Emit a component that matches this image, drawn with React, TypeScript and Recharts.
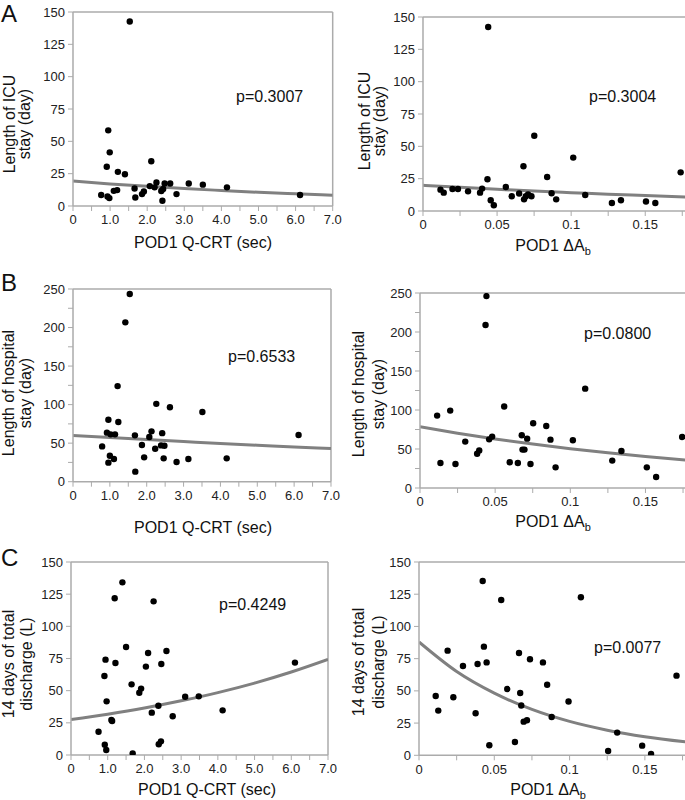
import React from "react";
import { ComposedChart, Line, ReferenceLine, Scatter, XAxis, YAxis } from "recharts";

const FONT = "'Liberation Sans', Arial, Helvetica, sans-serif";
const AXIS = "#ababab";

// x values: POD1 Q-CRT (sec) / POD1 ΔAb ; y values per outcome
const icuVsQcrt: [number, number][] = [
  [1.53, 142.6], [0.95, 58.5], [0.99, 41.5], [0.91, 30.3], [1.21, 26.4], [1.4, 24.6], [2.11, 34.6],
  [0.76, 8.5], [0.93, 7.3], [0.98, 6.1], [1.1, 11.7], [1.19, 12.3], [1.66, 13.5], [1.68, 6.6],
  [1.86, 9.2], [1.91, 11.2], [2.07, 15.4], [2.2, 14.4], [2.25, 18.2], [2.38, 11.6], [2.43, 13.2],
  [2.47, 17.4], [2.41, 4.1], [2.62, 17.4], [2.79, 9.2], [3.12, 17.4], [3.5, 16.5], [4.15, 14.4],
  [6.12, 8.5],
];
const icuVsDab: [number, number][] = [
  [0.044, 142.3], [0.0751, 58.2], [0.1014, 41.3], [0.0678, 34.6], [0.1739, 29.9], [0.0838, 26.3],
  [0.0435, 24.5], [0.0118, 16.5], [0.014, 14.2], [0.0199, 17], [0.0236, 17], [0.0304, 15.2],
  [0.0385, 14.2], [0.0399, 17.3], [0.0457, 8.3], [0.0478, 4.4], [0.0559, 18.6], [0.0599, 11.4],
  [0.0649, 13.5], [0.0682, 9], [0.0694, 11.4], [0.0709, 12.7], [0.0732, 11.4], [0.0868, 13.7],
  [0.0899, 9], [0.1095, 12.4], [0.1275, 6.2], [0.1336, 8.3], [0.1505, 7.3], [0.1568, 6.2],
];
const hospVsQcrt: [number, number][] = [
  [1.54, 243.5], [1.42, 206.7], [1.21, 124], [2.26, 101], [2.63, 96.5], [3.51, 90.4], [0.96, 80.4],
  [1.23, 77.4], [0.92, 63.6], [1.02, 61.4], [1.14, 61.4], [1.68, 60.1], [2.13, 65.3], [2.07, 58],
  [2.42, 63], [6.12, 60.6], [0.79, 45.8], [1.87, 47.6], [2.39, 47.1], [2.48, 46.7], [2.23, 42.8],
  [1.0, 33.7], [1.11, 29.4], [0.96, 24.7], [1.93, 31.6], [2.46, 30.3], [2.81, 25.5], [3.13, 29.4],
  [4.17, 30.3], [1.69, 13],
];
const hospVsDab: [number, number][] = [
  [0.0442, 246], [0.0436, 209], [0.1099, 127.4], [0.056, 104.4], [0.0201, 99.2], [0.0114, 92.8],
  [0.0753, 83], [0.084, 79.5], [0.0677, 67.6], [0.048, 65.9], [0.046, 62.4], [0.0713, 63.3],
  [0.0868, 62], [0.1017, 61.2], [0.1744, 65.4], [0.0301, 59.5], [0.038, 44], [0.0394, 48],
  [0.0682, 49.2], [0.0695, 49.2], [0.0136, 32], [0.0236, 30.8], [0.0597, 33], [0.0651, 32],
  [0.0735, 30.8], [0.0902, 26.5], [0.1279, 35.1], [0.134, 47.4], [0.1509, 26.5], [0.1571, 14.1],
];
const dischargeVsQcrt: [number, number][] = [
  [1.4, 134.2], [1.19, 121.8], [2.25, 119.4], [1.5, 83.9], [2.1, 79.3], [2.6, 80.8], [0.94, 74.1],
  [1.21, 71.5], [2.46, 70.7], [6.1, 71.8], [2.04, 68.7], [0.91, 61.4], [1.65, 54.9], [1.91, 51.6],
  [1.86, 48.4], [0.97, 41.7], [3.11, 45.3], [3.48, 45.6], [2.38, 38.3], [4.13, 34.7], [1.1, 27.2],
  [1.12, 26.4], [2.2, 32.9], [2.77, 30.1], [0.75, 18.1], [0.92, 8], [0.96, 3.9], [2.39, 8.3],
  [2.45, 10.6], [1.68, 1.3],
];
const dischargeVsDab: [number, number][] = [
  [0.0423, 135.2], [0.0546, 120.5], [0.1075, 122.6], [0.019, 81.2], [0.0431, 84.3], [0.0664, 79.4],
  [0.0737, 74.5], [0.0292, 69.3], [0.0389, 70.8], [0.0449, 72.1], [0.0823, 72.1], [0.0586, 51.4],
  [0.0672, 48.3], [0.0851, 54.8], [0.0111, 46], [0.0228, 45], [0.0993, 41.7], [0.0128, 34.7],
  [0.0376, 32.6], [0.0679, 38.6], [0.0695, 26.1], [0.0717, 27.2], [0.0881, 29.7], [0.1316, 17.6],
  [0.0467, 7.8], [0.0637, 10.3], [0.1256, 3.3], [0.1482, 7.5], [0.1541, 1], [0.171, 61.8],
];

// fitted curves, read at fixed x positions
const trendQcrtX = [0, 1, 2, 3, 4, 5, 6, 7];
const trendDabX = [0, 0.025, 0.05, 0.075, 0.1, 0.125, 0.15, 0.177];
const icuTrendQcrt = [19.3, 17.1, 15.2, 13.5, 12.0, 10.6, 9.4, 8.3];
const icuTrendDab = [19.9, 18.3, 16.8, 15.4, 14.2, 13.0, 12.0, 10.9];
const hospTrendQcrt = [60, 57.2, 54.6, 52.1, 49.6, 47.3, 45.1, 43];
const hospTrendDab = [78.5, 70.3, 62.9, 56.3, 50.4, 45.1, 40.4, 35.8];
const dischargeTrendQcrt = [27.5, 31.7, 36.5, 42.1, 48.5, 55.9, 64.5, 74.3];
const dischargeTrendDab = [87.9, 65, 48.2, 35.6, 26.3, 19.5, 14.4, 10.4];

const qcrtTicks = [0, 0.5, 1, 1.5, 2, 2.5, 3, 3.5, 4, 4.5, 5, 5.5, 6, 6.5, 7];
const dabTicks = [0, 0.025, 0.05, 0.075, 0.1, 0.125, 0.15, 0.175];
const ticks150 = [0, 25, 50, 75, 100, 125, 150];
const ticks250 = [0, 25, 50, 75, 100, 125, 150, 175, 200, 225, 250];

const fmtQcrt = (v: number) => (v === 0 ? "0" : Number.isInteger(v) ? v.toFixed(1) : "");
const fmtDab = (v: number) => {
  const r = Math.round(v * 1000);
  return r % 50 === 0 ? String(Math.round(v * 100) / 100) : "";
};
const fmt150 = (v: number) => String(v);
const fmt250 = (v: number) => (v % 50 === 0 ? String(v) : "");

type PanelProps = {
  box: [number, number, number, number]; // plot left, top, right, bottom
  points: [number, number][];
  trendX: number[];
  trendY: number[];
  xMax: number;
  xTicks: number[];
  xFmt: (v: number) => string;
  yMax: number;
  yTicks: number[];
  yFmt: (v: number) => string;
  frameRight: boolean;
};

function Dot(props: any) {
  return <circle cx={props.cx} cy={props.cy} r={3.2} fill="#000" />;
}

function Panel(p: PanelProps) {
  const [l, t, r, b] = p.box;
  const ml = 40;
  const mt = 10;
  const mr = 16;
  const w = r - l + ml + mr;
  const h = b - t + mt + 30;
  const pts = p.points.map(([x, y]) => ({ x, y }));
  const line = p.trendX.map((x, i) => ({ x, y: p.trendY[i] }));
  return (
    <div style={{ position: "absolute", left: l - ml, top: t - mt }}>
      <ComposedChart width={w} height={h} margin={{ top: mt, right: mr, left: 0, bottom: 0 }}>
        <XAxis
          type="number"
          dataKey="x"
          domain={[0, p.xMax]}
          ticks={p.xTicks}
          tickFormatter={p.xFmt}
          interval={0}
          allowDataOverflow
          height={30}
          tickSize={5}
          tickMargin={4}
          axisLine={{ stroke: AXIS, strokeWidth: 1.5 }}
          tickLine={{ stroke: AXIS }}
          tick={{ fontSize: 13, fill: "#222", fontFamily: FONT }}
        />
        <YAxis
          type="number"
          dataKey="y"
          domain={[0, p.yMax]}
          ticks={p.yTicks}
          tickFormatter={p.yFmt}
          interval={0}
          allowDataOverflow
          width={ml}
          tickSize={5}
          tickMargin={3}
          axisLine={{ stroke: AXIS, strokeWidth: 1.5 }}
          tickLine={{ stroke: AXIS }}
          tick={{ fontSize: 13, fill: "#222", fontFamily: FONT }}
        />
        <ReferenceLine y={p.yMax} stroke={AXIS} strokeWidth={1.5} />
        {p.frameRight && <ReferenceLine x={p.xMax} stroke={AXIS} strokeWidth={1.5} />}
        <Scatter data={pts} dataKey="y" shape={Dot} isAnimationActive={false} />
        <Line
          data={line}
          dataKey="y"
          type="monotone"
          dot={false}
          stroke="#808080"
          strokeWidth={3}
          isAnimationActive={false}
        />
      </ComposedChart>
    </div>
  );
}

function YLabel({ x1, x2, cy, l1, l2 }: { x1: number; x2: number; cy: number; l1: string; l2: string }) {
  return (
    <g>
      <text transform={`translate(${x1},${cy}) rotate(-90)`} textAnchor="middle">{l1}</text>
      <text transform={`translate(${x2},${cy}) rotate(-90)`} textAnchor="middle">{l2}</text>
    </g>
  );
}

function DabTitle({ x, y }: { x: number; y: number }) {
  return (
    <text x={x} y={y} textAnchor="middle">
      POD1 ΔA<tspan fontSize={11} dy={4}>b</tspan>
    </text>
  );
}

export default function App() {
  const DX = 0.1773;
  return (
    <div style={{ position: "absolute", left: 0, top: 0, width: 685, height: 800, overflow: "hidden", background: "#fff" }}>
      <Panel box={[73.3, 12, 333, 206]} points={icuVsQcrt} trendX={trendQcrtX} trendY={icuTrendQcrt}
        xMax={7} xTicks={qcrtTicks} xFmt={fmtQcrt} yMax={150} yTicks={ticks150} yFmt={fmt150} frameRight />
      <Panel box={[423.3, 16.7, 686, 210.7]} points={icuVsDab} trendX={trendDabX} trendY={icuTrendDab}
        xMax={DX} xTicks={dabTicks} xFmt={fmtDab} yMax={150} yTicks={ticks150} yFmt={fmt150} frameRight={false} />
      <Panel box={[73, 289.3, 331, 482]} points={hospVsQcrt} trendX={trendQcrtX} trendY={hospTrendQcrt}
        xMax={7} xTicks={qcrtTicks} xFmt={fmtQcrt} yMax={250} yTicks={ticks250} yFmt={fmt250} frameRight />
      <Panel box={[419.5, 292.7, 686, 487.7]} points={hospVsDab} trendX={trendDabX} trendY={hospTrendDab}
        xMax={DX} xTicks={dabTicks} xFmt={fmtDab} yMax={250} yTicks={ticks250} yFmt={fmt250} frameRight={false} />
      <Panel box={[71, 561.7, 328, 754.7]} points={dischargeVsQcrt} trendX={trendQcrtX} trendY={dischargeTrendQcrt}
        xMax={7} xTicks={qcrtTicks} xFmt={fmtQcrt} yMax={150} yTicks={ticks150} yFmt={fmt150} frameRight />
      <Panel box={[419, 561.7, 686, 755]} points={dischargeVsDab} trendX={trendDabX} trendY={dischargeTrendDab}
        xMax={DX} xTicks={dabTicks} xFmt={fmtDab} yMax={150} yTicks={ticks150} yFmt={fmt150} frameRight={false} />

      <svg width={685} height={800} style={{ position: "absolute", left: 0, top: 0, pointerEvents: "none" }}
        fontFamily={FONT} fontSize={16} fill="#111">
        <text x={1} y={22} fontSize={24}>A</text>
        <text x={1} y={291} fontSize={24}>B</text>
        <text x={1} y={566} fontSize={24}>C</text>

        <text x={236} y={102}>p=0.3007</text>
        <text x={589} y={102}>p=0.3004</text>
        <text x={228} y={362}>p=0.6533</text>
        <text x={584} y={339}>p=0.0800</text>
        <text x={219} y={610}>p=0.4249</text>
        <text x={594} y={653}>p=0.0077</text>

        <text x={203} y={248} textAnchor="middle">POD1 Q-CRT (sec)</text>
        <DabTitle x={553} y={251} />
        <text x={203} y={533} textAnchor="middle">POD1 Q-CRT (sec)</text>
        <DabTitle x={553} y={527} />
        <text x={207} y={795} textAnchor="middle">POD1 Q-CRT (sec)</text>
        <DabTitle x={548} y={795} />

        <YLabel x1={14.5} x2={30} cy={124} l1="Length of ICU" l2="stay (day)" />
        <YLabel x1={369.5} x2={385} cy={121} l1="Length of ICU" l2="stay (day)" />
        <YLabel x1={14} x2={31} cy={393} l1="Length of hospital" l2="stay (day)" />
        <YLabel x1={364} x2={384} cy={394} l1="Length of hospital" l2="stay (day)" />
        <YLabel x1={13.5} x2={31.5} cy={664} l1="14 days of total" l2="discharge (L)" />
        <YLabel x1={364} x2={384} cy={662} l1="14 days of total" l2="discharge (L)" />
      </svg>
    </div>
  );
}
